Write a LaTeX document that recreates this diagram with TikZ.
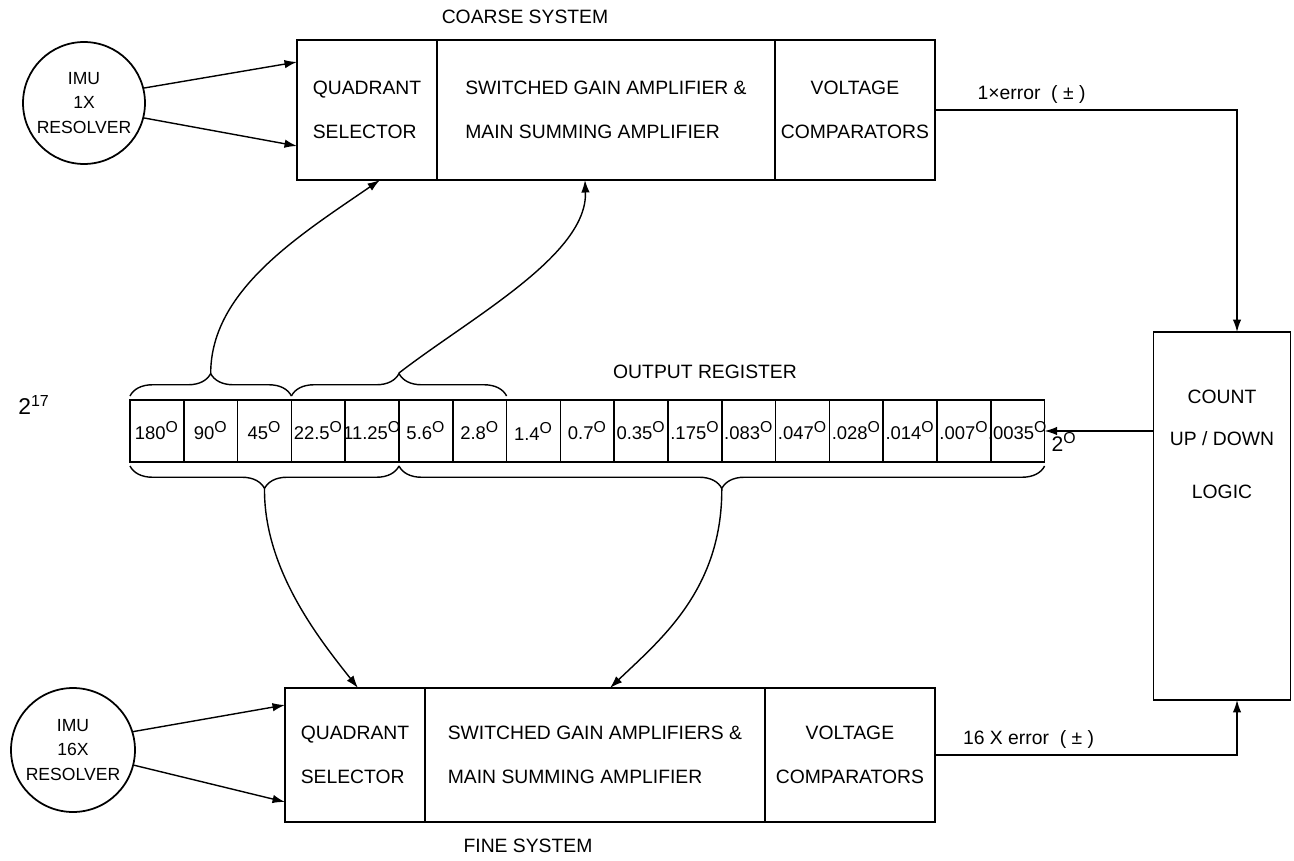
\documentclass[tikz,border=0pt]{standalone}
\usepackage{fontspec}
\setmainfont{Liberation Sans}
\usetikzlibrary{decorations.pathreplacing,positioning,arrows.meta}

\tikzset{
  blk/.style={draw,line width=1pt,outer sep=0pt,inner sep=0pt,minimum height=2.8cm},
  res/.style={draw,circle,line width=1pt,inner sep=0pt,align=center,font=\fontsize{10}{14}\selectfont},
  cell/.style={draw,line width=1pt,outer sep=0pt,inner sep=0pt,minimum width=1.076cm,minimum height=1.24cm,font=\fontsize{10.5}{12}\selectfont},
  brc/.style={decorate,decoration={brace,amplitude=0.45cm,raise=0.08cm},line width=0.8pt},
  wire/.style={line width=0.8pt,->},
}
\newcommand{\degO}{\textsuperscript{\fontsize{9}{9}\selectfont O}}

\begin{document}
\begin{tikzpicture}[x=0.02cm,y=-0.02cm,>={Latex[length=2.5mm,width=1.7mm]},font=\fontsize{11}{25}\selectfont]
\useasboundingbox (0,0) rectangle (1294,861);

% coarse system
\node at (525,17) (coarse) {COARSE SYSTEM};
\node[res,minimum size=2.44cm] (imu1) at (84,103) {IMU\\1X\\RESOLVER};
\node[blk,minimum width=2.8cm,align=left] (qs1) at (367,110) {QUADRANT\\SELECTOR};
\node[blk,minimum width=6.76cm,align=left,right=0pt of qs1] (sg1) {SWITCHED GAIN AMPLIFIER \&\\MAIN SUMMING AMPLIFIER};
\node[blk,minimum width=3.2cm,align=center,right=0pt of sg1] (vc1) {VOLTAGE\\COMPARATORS};
\draw[wire] (imu1.14) -- ([yshift=0.96cm]qs1.west);
\draw[wire] (imu1.-14) -- ([yshift=-0.72cm]qs1.west);

% fine system
\node at (528,846) (fine) {FINE SYSTEM};
\node[res,minimum size=2.48cm] (imu2) at (73,750) {IMU\\16X\\RESOLVER};
\node[blk,minimum width=2.8cm,minimum height=2.68cm,align=left] (qs2) at (355,755) {QUADRANT\\SELECTOR};
\node[blk,minimum width=6.8cm,minimum height=2.68cm,align=left,right=0pt of qs2] (sg2) {SWITCHED GAIN AMPLIFIERS \&\\MAIN SUMMING AMPLIFIER};
\node[blk,minimum width=3.4cm,minimum height=2.68cm,align=center,right=0pt of sg2] (vc2) {VOLTAGE\\COMPARATORS};
\draw[wire] (imu2.17) -- ([yshift=1cm]qs2.west);
\draw[wire] (imu2.-14) -- ([yshift=-0.94cm]qs2.west);

% counter
\node[blk,minimum width=2.74cm,minimum height=7.36cm] (count) at (1222,516) {};
\node[align=center,font=\fontsize{11}{24}\selectfont] (countlbl) at (1222,444) {COUNT\\UP / DOWN\\[6pt]LOGIC};
\draw[wire] (vc1.east) -| ([xshift=0.3cm]count.north) node[pos=0.16,above] {1×error~~(~±~)};
\draw[wire] (vc2.east) -| ([xshift=0.3cm]count.south) node[pos=0.155,above] {16 X error~~(~±~)};

% output register
\node at (705,372) (outreg) {OUTPUT REGISTER};
\foreach \v [count=\i] in {180,90,45,22.5,11.25,5.6,2.8,1.4,0.7,0.35,.175,.083,.047,.028,.014,.007,.0035}
  \node[cell] (r\i) at (103.1+53.8*\i,431) {\makebox[0pt]{\v\degO}};
\node[font=\fontsize{13}{15}\selectfont] (msb) at (34,405) {2\textsuperscript{17}};
\node[font=\fontsize{12}{14}\selectfont] (lsb) at (1064,442) {2\degO};
\draw[wire] (count.west |- r17.east) -- (r17.east);

% braces and their links
\draw[brc] (r1.north west) -- (r3.north east);
\draw[brc] (r4.north west) -- (r7.north east);
\draw[brc] (r5.south east) -- (r1.south west);
\draw[brc] (r17.south east) -- (r6.south west);
\coordinate (ta) at (210.7,373);
\coordinate (tb) at (399,373);
\coordinate (tc) at (264.5,489);
\coordinate (td) at (721.8,489);
\draw[wire] (ta) .. controls (211,290) and (300,235) .. ([xshift=0.26cm]qs1.south);
\draw[wire] (tb) .. controls (470,318) and (588,255) .. ([xshift=-0.42cm]sg1.south);
\draw[wire] (tc) .. controls (264,570) and (320,640) .. ([xshift=0.06cm]qs2.north);
\draw[wire] (td) .. controls (722,590) and (660,640) .. ([xshift=0.3cm]sg2.north);
\end{tikzpicture}
\end{document}
